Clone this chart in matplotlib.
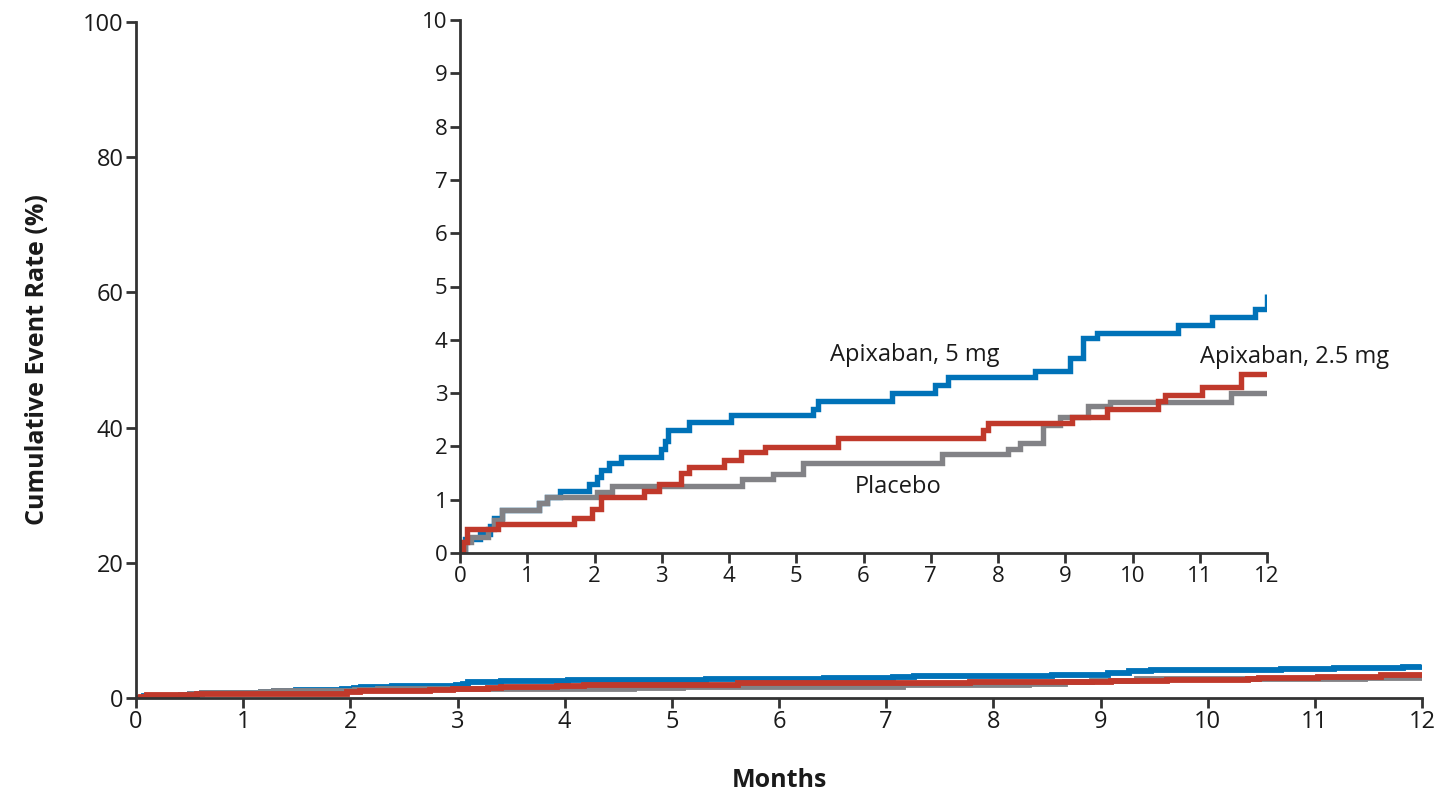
import matplotlib
matplotlib.use("Agg")
import matplotlib.pyplot as plt

plt.rcParams['font.family'] = ['Open Sans', 'DejaVu Sans']

# ---- data (months, cumulative event rate %) ----
apix5_t = [0, 0.07, 0.30, 0.45, 0.50, 0.62, 1.17, 1.29, 1.49, 1.92, 2.03, 2.10, 2.22, 2.39,
           2.99, 3.05, 3.10, 3.41, 4.03, 5.25, 5.32, 6.42, 7.06, 7.26, 8.55, 9.07, 9.27,
           9.47, 10.68, 11.18, 11.82, 12.0]
apix5_v = [0, 0.26, 0.35, 0.51, 0.66, 0.80, 0.94, 1.05, 1.17, 1.30, 1.43, 1.56, 1.68, 1.81,
           1.95, 2.10, 2.30, 2.45, 2.59, 2.70, 2.85, 3.00, 3.15, 3.30, 3.42, 3.65, 4.03,
           4.13, 4.28, 4.42, 4.57, 4.86]

placebo_t = [0, 0.07, 0.17, 0.42, 0.50, 0.62, 1.17, 1.29, 2.04, 2.26, 4.20, 4.65, 5.10,
             7.16, 8.15, 8.33, 8.67, 8.92, 9.34, 9.67, 11.47, 12.0]
placebo_v = [0, 0.20, 0.30, 0.45, 0.62, 0.80, 0.94, 1.05, 1.15, 1.26, 1.38, 1.49, 1.69,
             1.86, 1.96, 2.07, 2.40, 2.56, 2.76, 2.84, 3.01, 3.01]

apix25_t = [0, 0.05, 0.10, 0.57, 1.69, 1.97, 2.09, 2.74, 2.96, 3.28, 3.41, 3.93, 4.18,
            4.53, 5.62, 7.78, 7.85, 9.10, 9.62, 10.38, 10.48, 11.03, 11.62, 12.0]
apix25_v = [0, 0.20, 0.45, 0.54, 0.66, 0.83, 1.05, 1.17, 1.30, 1.51, 1.62, 1.75, 1.90,
            1.99, 2.15, 2.30, 2.43, 2.56, 2.71, 2.86, 2.96, 3.11, 3.35, 3.35]

main_yticks = [0, 20, 40, 60, 80, 100]
inset_yticks = list(range(0, 11))
xticks = list(range(0, 13))

labels = ["Apixaban, 5 mg", "Apixaban, 2.5 mg", "Placebo"]

BLUE = "#0072b8"
RED = "#c0392b"
GRAY = "#828286"
AXC = "#333333"
TXT = "#1a1a1a"

series = [(apix5_t, apix5_v, BLUE), (placebo_t, placebo_v, GRAY), (apix25_t, apix25_v, RED)]

fig = plt.figure(figsize=(14.5, 7.98), dpi=100)

def style_axes(ax, lw=2.0, fs=17):
    for s in ("top", "right"):
        ax.spines[s].set_visible(False)
    for s in ("left", "bottom"):
        ax.spines[s].set_linewidth(lw)
        ax.spines[s].set_color(AXC)
    ax.tick_params(direction="out", length=7, width=lw, color=AXC,
                   labelsize=fs, labelcolor=TXT, pad=2)

# main axes
ax = fig.add_axes([136/1450, 1-698/798, (1422-136)/1450, (698-22)/798])
for t, v, c in series:
    ax.step(t, v, where="post", color=c, lw=4.2, solid_joinstyle="miter", solid_capstyle="butt")
ax.set_xlim(0, 12)
ax.set_ylim(0, 100)
ax.set_xticks(xticks)
ax.set_yticks(main_yticks)
style_axes(ax, fs=17)
ax.set_xlabel("Months", fontsize=18, fontweight="bold", color=TXT, labelpad=24)
ax.set_ylabel("Cumulative Event Rate (%)", fontsize=18, fontweight="bold", color=TXT, labelpad=24)

# inset axes
ins = fig.add_axes([460/1450, 1-553/798, (1267-460)/1450, (553-20)/798])
ins.patch.set_alpha(0)
for t, v, c in series:
    ins.step(t, v, where="post", color=c, lw=3.9, solid_joinstyle="miter", solid_capstyle="butt")
ins.set_xlim(0, 12)
ins.set_ylim(0, 10)
ins.set_xticks(xticks)
ins.set_yticks(inset_yticks)
style_axes(ins, fs=16)

ins.text(5.5, 3.72, labels[0], fontsize=17, color=TXT, va="center", ha="left")
ins.text(11.0, 3.68, labels[1], fontsize=17, color=TXT, va="center", ha="left", clip_on=False)
ins.text(5.87, 1.24, labels[2], fontsize=17, color=TXT, va="center", ha="left")

fig.savefig("out.png", dpi=100)
